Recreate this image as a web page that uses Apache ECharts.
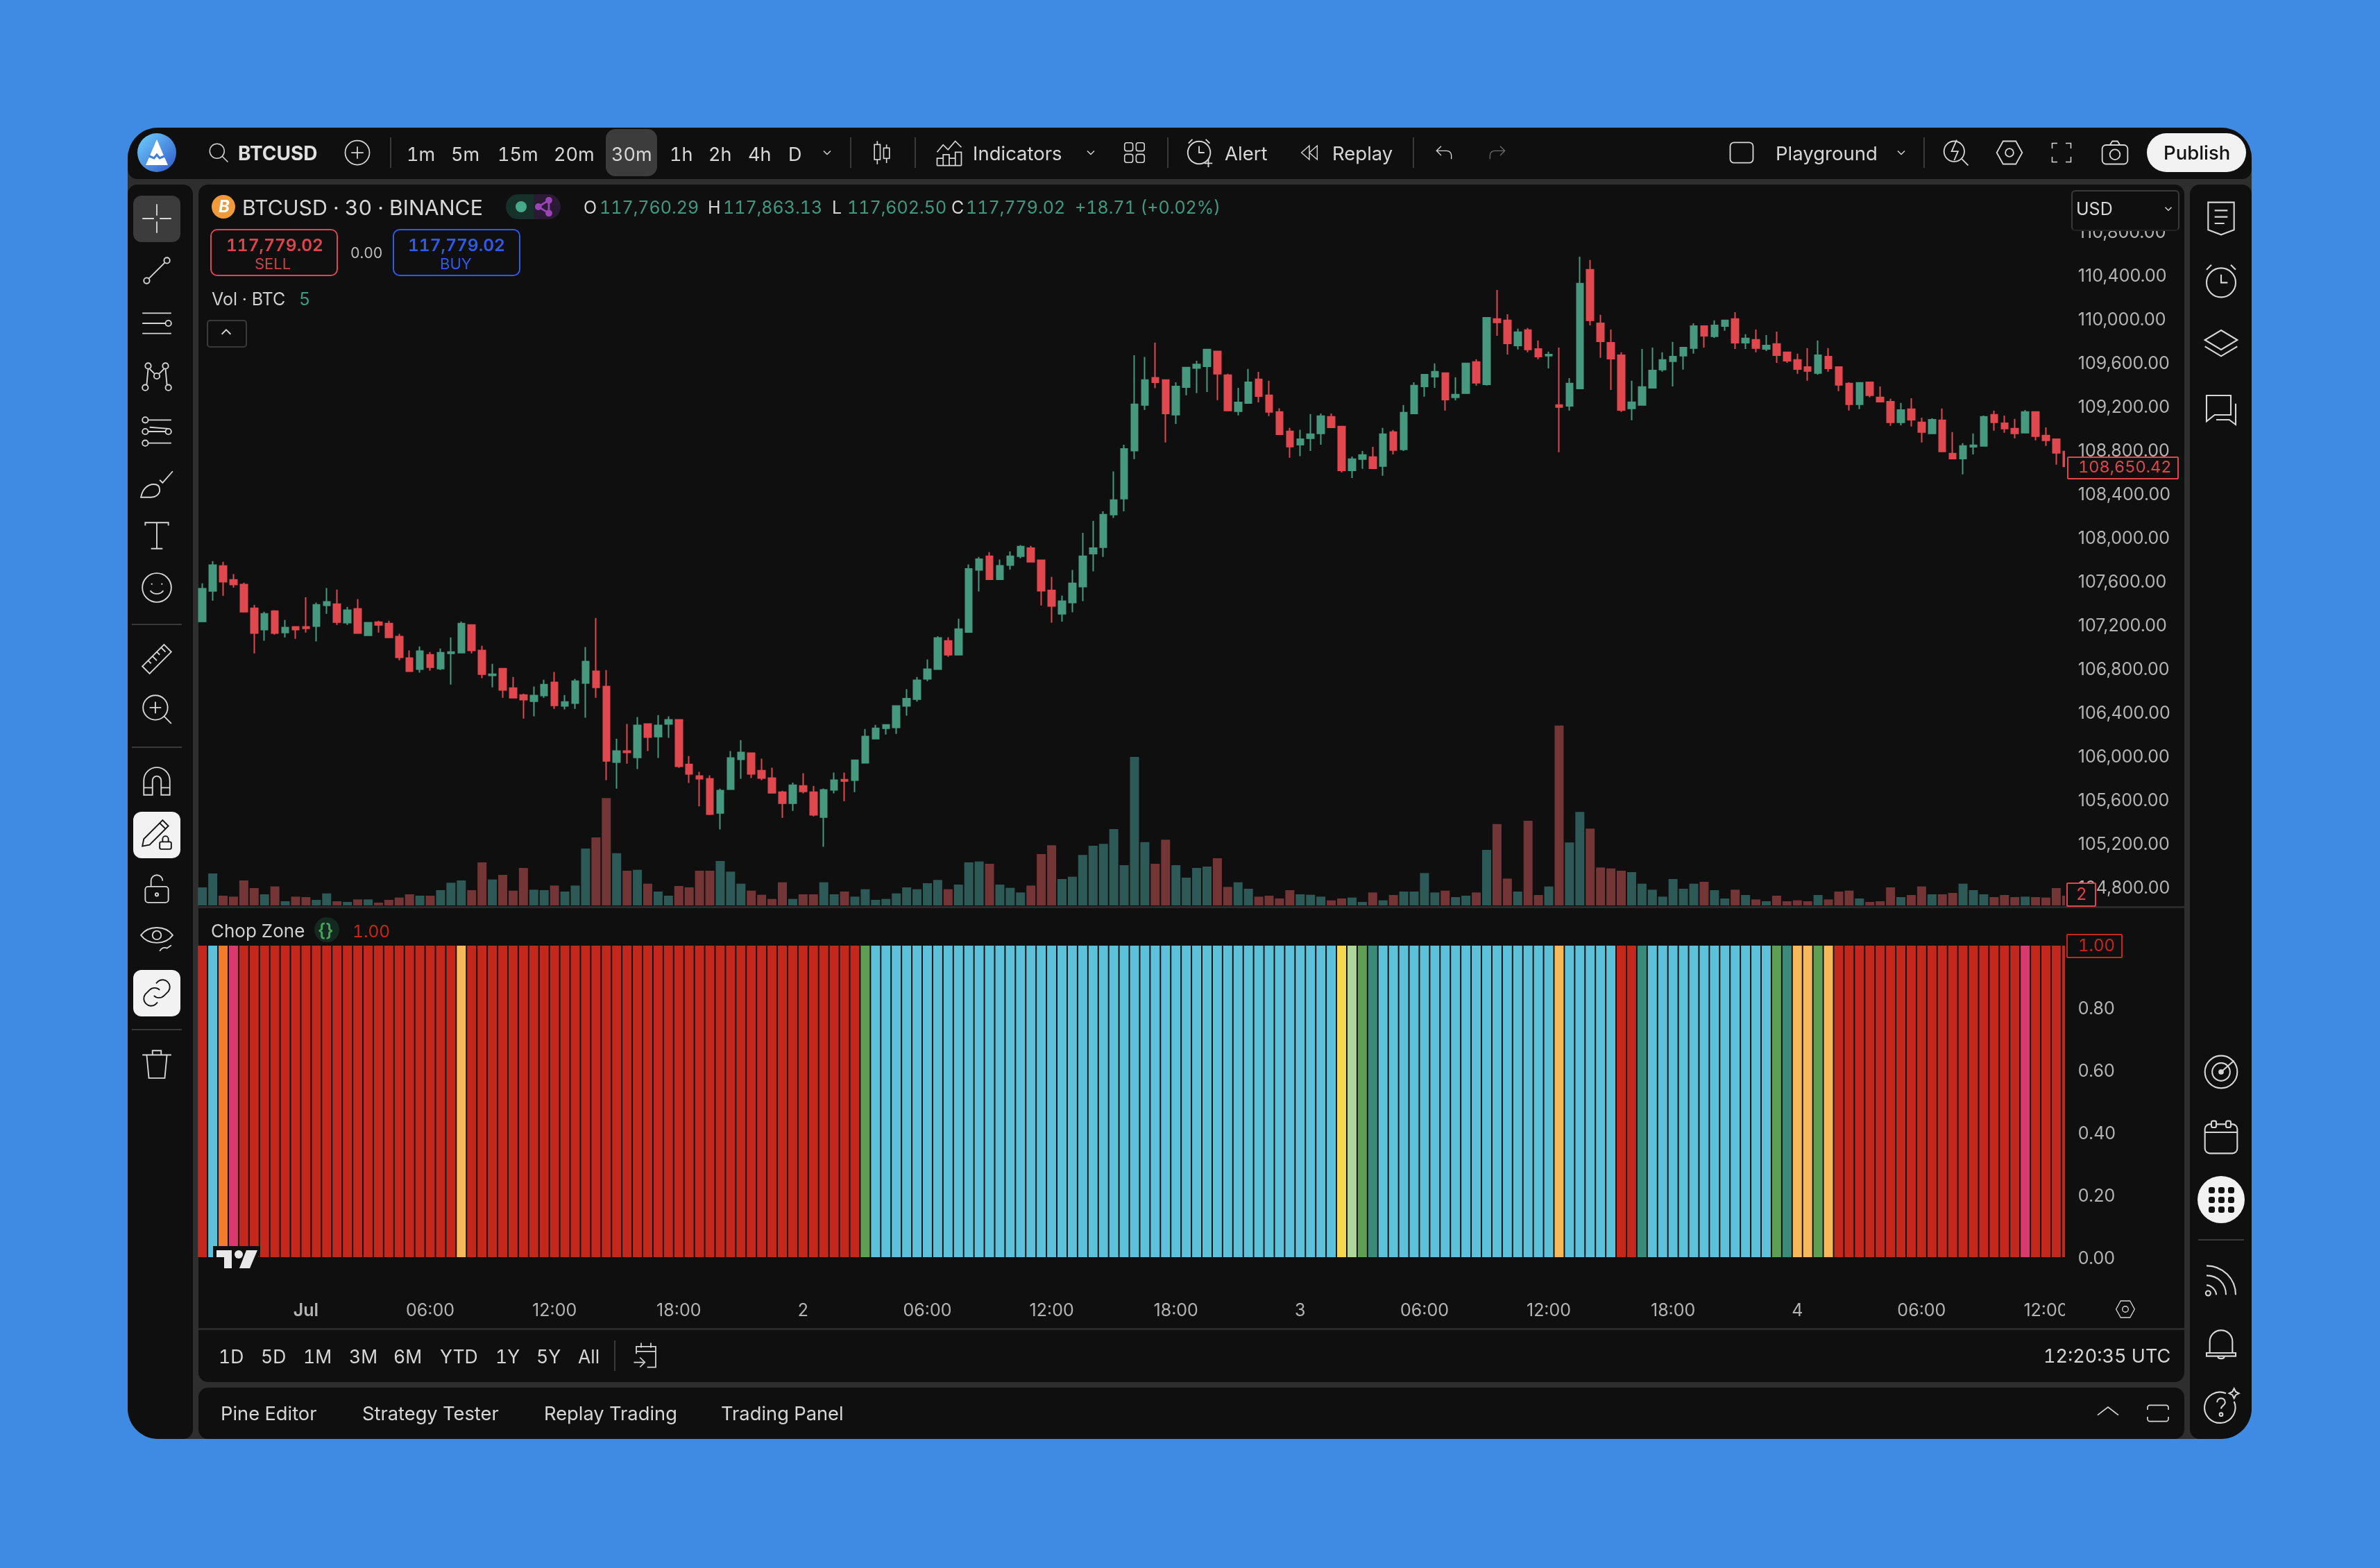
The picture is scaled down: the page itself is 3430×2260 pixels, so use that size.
<!DOCTYPE html>
<html>
<head>
<meta charset="utf-8">
<title>BTCUSD</title>
<script src="https://cdn.jsdelivr.net/npm/echarts@6/dist/echarts.min.js"></script>
<style>
html, body { margin: 0; padding: 0; background: #3f8be3; width: 3430px; height: 2260px; overflow: hidden; }
body { font-family: Inter, "Noto Sans", sans-serif; }
#win { position: absolute; left: 184px; top: 184px; width: 3061px; height: 1890px; background: #2e2e2e; border-radius: 44px; overflow: hidden; }
#chart { position: absolute; left: 0; top: 0; width: 3430px; height: 2260px; z-index: 2; }
#ui { position: absolute; left: 0; top: 0; width: 3430px; height: 2260px; z-index: 3; }
#ui div, #ui svg { position: absolute; }
.t { white-space: nowrap; transform: translateY(-50%); line-height: 1; font-variant-numeric: tabular-nums; }
</style>
</head>
<body>
<div id="win"></div>
<div id="chart"></div>
<div id="ui"></div>
<script>
// values, one entry per 30 minute bar
var opens = [107230,107509,107738,107611,107568,107350,107155,107325,107127,107180,107180,107186,107377,107388,107218,107345,107102,107223,107211,107091,
106894,106792,106925,106798,106937,106944,107198,106964,106735,106798,106619,106556,106499,106551,106671,106456,106481,106665,106773,106633,
105941,106043,105984,106290,106174,106290,106329,105920,105814,105789,105476,105693,105966,106023,105863,105795,105666,105564,105723,105666,
105437,105686,105781,105775,105935,106156,106251,106258,106455,106517,106704,106792,107051,106925,107133,107701,107827,107616,107745,107827,
107902,107790,107514,107300,107402,107548,107851,107909,108208,108355,108794,109213,109461,109441,109124,109376,109550,109567,109703,109485,
109155,109230,109447,109301,109148,108971,108848,108907,108951,109104,109015,108614,108716,108735,108653,108964,108805,109135,109383,109472,
109504,109282,109320,109606,109402,110000,109987,109758,109898,109726,109663,109212,109205,109364,110451,109961,109783,109669,109180,109212,
109370,109536,109612,109663,109733,109936,109841,109936,110000,109783,109809,109726,109771,109695,109625,109561,109504,109656,109561,109409,
109218,109421,109282,109243,109053,109174,109053,108951,109072,108767,108722,108830,108837,109123,109046,108996,108958,109148,108932,108900,
108786];
var closes = [107529,107745,107593,107568,107318,107123,107300,107123,107173,107155,107166,107382,107409,107223,107332,107123,107218,107198,107084,106901,
106773,106957,106810,106944,106950,107211,106964,106746,106746,106601,106531,106513,106551,106651,106460,106492,106683,106862,106626,105952,
106043,106029,106277,106170,106277,106329,105902,105832,105789,105464,105680,105979,106029,105832,105795,105659,105564,105730,105672,105458,
105686,105775,105768,105958,106176,106251,106282,106455,106523,106690,106792,107078,106925,107160,107711,107800,107616,107739,107827,107916,
107776,107511,107371,107415,107579,107827,107902,108208,108341,108811,109219,109441,109420,109134,109383,109556,109584,109720,109499,109162,
109236,109420,109294,109148,108944,108831,108899,108945,109110,109008,108614,108716,108754,108633,108945,108799,109142,109390,109491,109517,
109262,109307,109593,109415,110012,109968,109777,109879,109720,109656,109675,109193,109409,110324,109987,109796,109637,109167,109237,109377,
109529,109625,109656,109739,109936,109847,109942,109987,109783,109822,109733,109758,109669,109618,109542,109523,109669,109548,109396,109218,
109415,109301,109243,109053,109167,109078,108964,109078,108786,108722,108837,108843,109104,109053,108996,108951,109148,108926,108888,108773,
108650];
var highs = [107579,107783,107776,107663,107586,107382,107318,107332,107243,107186,107452,107402,107536,107522,107363,107434,107223,107236,107236,107116,
106964,107000,106950,106982,107084,107230,107198,107007,106842,106798,106721,106569,106633,106696,106767,106556,106703,106996,107261,106785,
106156,106290,106354,106290,106372,106360,106333,105997,105852,105820,105698,106043,106143,106030,105972,105890,105679,105754,105839,105723,
105700,105846,105846,105958,106244,106282,106289,106455,106609,106721,106881,107095,107085,107255,107752,107820,107865,107797,107871,107929,
107922,107797,107637,107466,107701,108042,108151,108239,108603,108848,109669,109652,109784,109447,109420,109556,109618,109720,109710,109499,
109369,109543,109516,109434,109182,109002,108985,109129,109135,109135,109015,108741,108792,108830,109002,108983,109212,109421,109491,109593,
109504,109466,109593,109631,110012,110266,110044,109911,109917,109803,109701,109739,109459,110571,110540,110038,109904,109695,109434,109726,
109739,109695,109790,109739,109961,109936,109987,109993,110063,109860,109904,109853,109885,109695,109682,109733,109803,109733,109561,109421,
109421,109421,109383,109269,109231,109275,109097,109091,109180,108964,108862,108951,109116,109161,109116,109085,109167,109154,109008,108900,
108786];
var lows = [107230,107420,107465,107540,107318,106937,107053,107109,107084,107071,107127,107046,107300,107198,107198,107116,107096,107127,107077,106873,
106773,106760,106778,106785,106651,106937,106937,106710,106626,106531,106531,106340,106360,106531,106429,106424,106429,106347,106531,105775,
105698,105927,105877,106043,105979,106163,105889,105750,105535,105457,105324,105687,105789,105795,105775,105659,105431,105495,105655,105444,
105165,105655,105584,105666,105928,106156,106193,106200,106367,106496,106683,106792,106905,106925,107133,107504,107609,107616,107705,107807,
107776,107375,107218,107228,107313,107415,107688,107820,108178,108239,108716,109168,109366,108869,109039,109301,109322,109332,109257,109162,
109117,109226,109236,109110,108937,108729,108743,108792,108849,109008,108595,108544,108627,108633,108564,108760,108792,109129,109288,109370,
109161,109256,109320,109390,109390,109847,109675,109720,109695,109631,109548,108780,109161,109364,109942,109644,109351,109148,109072,109212,
109370,109517,109383,109536,109682,109739,109828,109892,109726,109726,109695,109707,109599,109599,109498,109434,109491,109517,109339,109161,
109174,109282,109243,109021,109027,109015,108869,108945,108786,108722,108576,108760,108837,108977,108958,108907,108958,108888,108837,108665,
108633];
var volumes = [3.9,6.9,2.1,1.9,5.4,3.75,2.4,4.1,0.9,1.9,1.8,1.2,2.6,0.9,0.75,1.3,1.3,0.6,1.2,1.7,
2.4,2.1,2.1,3.3,4.9,5.4,3.3,9.3,5.6,6.6,3.2,8.1,3.4,3.3,4.3,3.0,4.3,12.3,14.7,23.2,
11.3,7.5,7.7,4.7,3.0,2.1,4.2,3.9,7.5,7.5,9.6,7.3,4.7,3.2,2.3,1.4,5.0,1.4,2.4,2.4,
5.0,2.4,3.0,1.9,3.5,1.2,1.4,2.6,3.9,3.5,4.8,5.5,3.5,4.5,9.3,9.5,9.0,4.5,3.8,2.8,
4.3,11.1,13.0,5.7,6.2,10.9,12.9,13.3,16.5,8.7,32.1,13.7,9.0,14.2,8.7,6.0,8.1,8.4,10.2,4.0,
5.0,3.6,1.9,2.1,1.5,3.3,2.4,2.3,1.9,1.1,1.5,1.7,0.75,2.8,1.1,2.25,3.0,3.0,7.0,2.8,
3.2,1.8,2.1,2.8,12,17.6,5.8,3.0,18.3,2.25,4.1,38.9,13.6,20.2,16.6,8.2,8.0,7.5,7.2,4.7,
3.4,1.9,5.7,3.6,4.7,5.1,3.3,1.5,3.4,2.25,1.3,0.9,2.1,0.9,1.1,0.9,2.25,1.3,3.0,3.2,
1.5,0.75,0.9,3.9,1.8,2.25,4.1,2.4,2.4,2.7,4.7,3.3,2.4,1.8,2.25,1.8,1.9,1.8,1.7,3.75,
2.1];
// one letter per bar: r red, b blue, o orange, p pink, a amber, y yellow, l light green, g green, t teal
var chopZones = 'rbop' + 'rrrrrrrrrrrrrrrrrrrrr' + 'a' + 'rrrrrrrrrrrrrrrrrrrrrrrrrrrrrrrrrrrrrr' + 'g'
  + 'bbbbbbbbbbbbbbbbbbbbbbbbbbbbbbbbbbbbbbbbbbbbb' + 'ylgt' + 'bbbbbbbbbbbbbbbbb' + 'a' + 'bbbbb' + 'rr' + 't'
  + 'bbbbbbbbbbbb' + 'gtaaga' + 'rrrrrrrrrrrrrrrrrr' + 'p' + 'rrrr';
var chopValue = 1;
var timeLabels = ['Jul','06:00','12:00','18:00','2','06:00','12:00','18:00','3','06:00','12:00','18:00','4','06:00','12:00'];
var firstLabelBar = 10;
var barsPerLabel = 12;

var UP = '#46997f', DOWN = '#e0484f';
var VOL_UP = '#2d5a57', VOL_DOWN = '#733535';
var chopColors = { r: '#c4281c', b: '#5cc1d9', o: '#f37b2b', p: '#d83a6e', a: '#f5b95a', y: '#f8d74f', l: '#b0d59c', g: '#5e9f55', t: '#3a8a7a' };
var FONT = 'Inter';

var categories = opens.map(function (v, i) {
    var k = i - firstLabelBar;
    return (k >= 0 && k % barsPerLabel === 0) ? timeLabels[k / barsPerLabel] : '';
});
var candleData = opens.map(function (v, i) { return [opens[i], closes[i], lows[i], highs[i]]; });
var volumeData = volumes.map(function (v, i) {
    return { value: v, itemStyle: { color: closes[i] >= opens[i] ? VOL_UP : VOL_DOWN } };
});
var chopData = opens.map(function (v, i) {
    return { value: chopValue, itemStyle: { color: chopColors[chopZones.charAt(i)] } };
});

// price scale labels sit a little under their tick
var scaleRich = { a: { fontFamily: FONT, fontSize: 25, color: '#b4b4b4', padding: [4, 0, 0, 0] } };

var gridX = { left: 284.2, width: 2701.6 };
var myChart = echarts.init(document.getElementById('chart'));
var option = {
    animation: false,
    backgroundColor: 'transparent',
    grid: [
        { left: gridX.left, width: gridX.width, top: 271, height: 1007 },
        { left: gridX.left, width: gridX.width, top: 1005, height: 300 },
        { left: gridX.left, width: gridX.width, top: 1363, height: 449 }
    ],
    xAxis: [
        { type: 'category', gridIndex: 0, data: categories, show: false },
        { type: 'category', gridIndex: 1, data: categories, show: false },
        {
            type: 'category', gridIndex: 2, data: categories, z: 2,
            axisLine: { show: false }, axisTick: { show: false },
            axisLabel: {
                interval: function (i, name) { return name !== ''; },
                margin: 65, fontFamily: FONT, fontSize: 25, color: '#b4b4b4',
                formatter: function (v) { return v === 'Jul' ? '{b|Jul}' : v; },
                rich: { b: { fontFamily: FONT, fontSize: 25, fontWeight: 600, color: '#b4b4b4' } }
            }
        }
    ],
    yAxis: [
        {
            type: 'value', gridIndex: 0, position: 'right', min: 104800, max: 111200, interval: 400, z: 6,
            axisLine: { show: false }, axisTick: { show: false }, splitLine: { show: false },
            axisLabel: {
                margin: 9, showMaxLabel: false, rich: scaleRich,
                formatter: function (v) { return '{a|' + v.toLocaleString('en-US', { minimumFractionDigits: 2 }) + '}'; }
            }
        },
        { type: 'value', gridIndex: 1, min: 0, max: 45, show: false },
        {
            type: 'value', gridIndex: 2, position: 'right', min: 0, max: 1, interval: 0.2, z: 6,
            axisLine: { show: false }, axisTick: { show: false }, splitLine: { show: false },
            axisLabel: {
                margin: 9, showMaxLabel: false, rich: scaleRich,
                formatter: function (v) { return '{a|' + v.toFixed(2) + '}'; }
            }
        }
    ],
    // the last bar is cut by the pane edge
    graphic: [{
        type: 'rect', z: 5, silent: true,
        shape: { x: 2976, y: 266, width: 18, height: 1644 },
        style: { fill: '#0f0f0f' }
    }],
    series: [
        {
            name: 'Vol', type: 'bar', xAxisIndex: 1, yAxisIndex: 1, barWidth: 13, data: volumeData
        },
        {
            name: 'BTCUSD', type: 'candlestick', xAxisIndex: 0, yAxisIndex: 0, barWidth: 10,
            itemStyle: { color: UP, color0: DOWN, borderColor: UP, borderColor0: DOWN, borderWidth: 2 },
            data: candleData
        },
        {
            name: 'Chop Zone', type: 'bar', xAxisIndex: 2, yAxisIndex: 2, barWidth: 13, data: chopData
        }
    ]
};
myChart.setOption(option);

// ---- terminal frame around the chart ----
var ui = document.getElementById('ui');
var win = document.getElementById('win');
var PANE = '#0f0f0f', TXT = '#d6d6d6';

function box(x, y, w, h, css, parent) {
    var d = document.createElement('div');
    d.style.cssText = 'left:' + x + 'px;top:' + y + 'px;width:' + w + 'px;height:' + h + 'px;position:absolute;' + (css || '');
    (parent || ui).appendChild(d);
    return d;
}
function pane(x, y, w, h) { box(x - 184, y - 184, w, h, 'background:' + PANE + ';border-radius:14px;', win); }
function text(s, x, y, size, color, weight, css) {
    var d = document.createElement('div');
    d.className = 't';
    d.textContent = s;
    d.style.cssText = 'left:' + x + 'px;top:' + y + 'px;font-size:' + size + 'px;color:' + (color || TXT) + ';font-weight:' + (weight || 400) + ';' + (css || '');
    ui.appendChild(d);
    return d;
}
function icon(cx, cy, size, inner, color, sw) {
    var s = document.createElementNS('http://www.w3.org/2000/svg', 'svg');
    s.setAttribute('viewBox', '0 0 24 24');
    s.setAttribute('width', size);
    s.setAttribute('height', size);
    s.style.left = (cx - size / 2) + 'px';
    s.style.top = (cy - size / 2) + 'px';
    s.setAttribute('fill', 'none');
    s.setAttribute('stroke', color || TXT);
    s.setAttribute('stroke-width', sw || 1);
    s.innerHTML = inner;
    ui.appendChild(s);
}
function vline(x, y0, y1) { box(x, y0, 2, y1 - y0, 'background:#3a3a3a;'); }
function hline(x0, x1, y) { box(x0, y, x1 - x0, 2, 'background:#3a3a3a;'); }

pane(184, 184, 3061, 74);
pane(184, 266, 94, 1808);
pane(286, 266, 2862, 1726);
pane(286, 2000, 2862, 74);
pane(3156, 266, 89, 1808);
box(286, 1306, 2862, 3, 'background:#2a2a2a;');
box(286, 1914, 2862, 3, 'background:#2a2a2a;');

var ICONS = {
    search: '<circle cx="10.5" cy="10.5" r="7"/><path d="M15.5 15.5L21 21"/>',
    plus: '<circle cx="12" cy="12" r="10"/><path d="M12 7v10M7 12h10"/>',
    chevron: '<path d="M6 9l6 6 6-6"/>',
    candles: '<path d="M8 2v20M16 5v16"/><rect x="5.5" y="5" width="5" height="13" fill="#0f0f0f"/><rect x="13.5" y="8" width="5" height="9" fill="#0f0f0f"/>',
    indicators: '<path d="M2 11l5-6 4 4 6-7 5 5"/><path d="M2 22v-6h5v6M7 22V13h5v9M12 22V16h5v6M17 22V11h5v11M2 22h20"/>',
    grid: '<rect x="3" y="3" width="7.5" height="7.5" rx="2"/><rect x="13.5" y="3" width="7.5" height="7.5" rx="2"/><rect x="3" y="13.5" width="7.5" height="7.5" rx="2"/><rect x="13.5" y="13.5" width="7.5" height="7.5" rx="2"/>',
    alert: '<circle cx="11" cy="12" r="8.5"/><path d="M11 7v5h4M3 5l3-3M19 5l-3-3M18 17v6M15 20h6"/>',
    replay: '<path d="M12 5l-8 7 8 7zM20 5l-8 7 8 7z"/>',
    undo: '<path d="M9 5L4 10l5 5M4 10h11a5 5 0 015 5v4"/>',
    redo: '<path d="M15 5l5 5-5 5M20 10H9a5 5 0 00-5 5v4"/>',
    square: '<rect x="3" y="4" width="18" height="16" rx="3"/>',
    bolt: '<circle cx="10" cy="11" r="8"/><path d="M16 17l5 5M12 2l-4 9h5l-3 7"/>',
    hex: '<path d="M7 3h10l5 9-5 9H7l-5-9z"/><circle cx="12" cy="12" r="3.2"/>',
    full: '<path d="M3 8V3h5M16 3h5v5M21 16v5h-5M8 21H3v-5"/>',
    camera: '<rect x="2" y="6" width="20" height="15" rx="3"/><circle cx="12" cy="13.5" r="4"/><path d="M8 6l2-3h4l2 3"/>',
    cross: '<path d="M12 2v8M12 14v8M2 12h8M14 12h8"/>',
    line: '<circle cx="5" cy="19" r="2"/><circle cx="19" cy="5" r="2"/><path d="M6.4 17.6L17.6 6.4"/>',
    lines: '<path d="M2 5h20M2 12h16M2 19h20"/><circle cx="20" cy="12" r="2"/>',
    network: '<circle cx="6" cy="5" r="2"/><circle cx="18" cy="5" r="2"/><circle cx="12" cy="12" r="2"/><circle cx="4" cy="20" r="2"/><circle cx="20" cy="20" r="2"/><path d="M7 7l3.5 3.5M17 7l-3.5 3.5M5 18l1-11M19 18l-1-11"/>',
    fib: '<path d="M6 4h16M6 12h12M6 20h16M7 9l13 1"/><circle cx="4" cy="4" r="2"/><circle cx="4" cy="12" r="2"/><circle cx="20" cy="12" r="2"/><circle cx="4" cy="20" r="2"/>',
    brush: '<path d="M1 21c1-5 4-9 9-9 3 0 4 2 4 4 0 3-3 5-6 5zM14 9l2 2 7-8"/>',
    letter: '<path d="M4 5V3h16v2M12 3v18M8 21h8"/>',
    smile: '<circle cx="12" cy="12" r="10"/><path d="M7.5 14c2 3 7 3 9 0M8.5 9v1M15.5 9v1"/>',
    ruler: '<path d="M2 17L17 2l5 5L7 22zM6 13l2 2M9 10l3 3M12 7l2 2M15 4l3 3"/>',
    zoomIn: '<circle cx="11" cy="11" r="8.5"/><path d="M17 17l5 5M11 7v8M7 11h8"/>',
    magnet: '<path d="M3 21V11a9 9 0 0118 0v10h-6V11a3 3 0 00-6 0v10zM3 16h6M15 16h6"/>',
    pencilLock: '<path d="M2 20l1-5L14 4l4 4L7 19zM14 4l2-2 4 4-2 2"/><rect x="14" y="17" width="8" height="5" rx="1"/><path d="M16 17v-2a2 2 0 014 0v2"/>',
    lock: '<rect x="4" y="11" width="16" height="11" rx="2"/><path d="M8 11V7a4 4 0 018 0"/><circle cx="12" cy="16.5" r="1"/>',
    eye: '<path d="M1 11c5-7 17-7 22 0-5 7-17 7-22 0z"/><circle cx="12" cy="11" r="3"/><path d="M14 22c1-2 3-3 5-2l3-2"/>',
    link: '<path d="M10 14a5 5 0 007 0l3-3a5 5 0 00-7-7l-1.500 1.500M14 10a5 5 0 00-7 0l-3 3a5 5 0 007 7l1.500-1.500"/>',
    trash: '<path d="M2 6h20M9 6V3h6v3M5 6l1.500 16h11L19 6"/>',
    notes: '<path d="M4 2h16v17l-8 3-8-3zM8 7h8M8 11h8M8 15h6"/>',
    alarm: '<circle cx="12" cy="13" r="9"/><path d="M12 8v5h4M3 5l3-3M21 5l-3-3"/>',
    layers: '<path d="M12 3l10 6-10 6L2 9zM2 13l10 6 10-6"/>',
    chat: '<path d="M3 3h15v12H8l-5 4zM21 8v13l-4-3H9"/>',
    target: '<circle cx="12" cy="12" r="10"/><circle cx="12" cy="12" r="5.500"/><circle cx="12" cy="12" r="1.200" fill="#d6d6d6"/><path d="M12 12l8-7"/>',
    calendar: '<rect x="2" y="4" width="20" height="18" rx="3"/><path d="M2 9h20"/><rect x="6" y="2" width="3" height="4" rx="1" fill="#0f0f0f"/><rect x="15" y="2" width="3" height="4" rx="1" fill="#0f0f0f"/>',
    rss: '<path d="M3 4c10 0 18 8 18 18M3 10c7 0 12 5 12 12M3 16c3 0 6 3 6 6"/><circle cx="4" cy="21" r="1.500"/>',
    bell: '<path d="M5 18V11a7 7 0 0114 0v7M3 18h18v2H3zM10 20c0 2 4 2 4 0"/>',
    help: '<path d="M20 9a9.500 9.500 0 11-5-5"/><path d="M9.500 9.500a2.500 2.500 0 115 0c0 2-2.500 2-2.500 4"/><circle cx="12" cy="17" r="1"/><path d="M20 1l1 2 2 1-2 1-1 2-1-2-2-1 2-1z"/>',
    calendarGo: '<path d="M4 11V5h16v17h-7M4 9h16M8 2v4M16 2v4M2 18h8M7 14l4 4-4 4"/>',
    up: '<path d="M3 16l9-7 9 7"/>',
    frame: '<path d="M5 5h14a2 2 0 012 2v2M21 15v2a2 2 0 01-2 2H5a2 2 0 01-2-2v-2M3 9V7a2 2 0 012-2"/>'
};

// ---- top bar ----
var logo = document.createElementNS('http://www.w3.org/2000/svg', 'svg');
logo.setAttribute('viewBox', '0 0 56 56');
logo.setAttribute('width', 56);
logo.setAttribute('height', 56);
logo.style.left = '198px';
logo.style.top = '192px';
logo.innerHTML = '<defs><linearGradient id="lg" x1="0" y1="0" x2="1" y2="1"><stop offset="0" stop-color="#6fd0ff"/><stop offset="1" stop-color="#2f58c8"/></linearGradient></defs><circle cx="28" cy="28" r="28" fill="url(#lg)"/><path d="M28 9L44 46H12z" fill="#fff"/><path d="M17 33l7 3 4-5 4 5 7-3" fill="none" stroke="#3f7fd8" stroke-width="3"/>';
ui.appendChild(logo);
icon(315, 220, 36, ICONS.search);
text('BTCUSD', 343, 221, 28, '#e0e0e0', 700);
icon(515, 220, 42, ICONS.plus);
vline(562, 198, 242);
box(873, 186, 74, 68, 'background:#3c3c3c;border-radius:14px;');
[['1m', 586], ['5m', 650], ['15m', 717], ['20m', 798], ['30m', 881], ['1h', 965], ['2h', 1021], ['4h', 1078], ['D', 1136]].forEach(function (t) {
    text(t[0], t[1], 221.5, 27);
});
icon(1192, 220, 20, ICONS.chevron, TXT, 1.8);
vline(1225, 198, 242);
icon(1271, 220, 40, ICONS.candles);
vline(1318, 198, 242);
icon(1368, 221, 42, ICONS.indicators);
text('Indicators', 1402, 221.5, 27.5);
icon(1572, 220, 20, ICONS.chevron, TXT, 1.8);
icon(1635, 220, 38, ICONS.grid);
vline(1682, 198, 242);
icon(1730, 220, 46, ICONS.alert);
text('Alert', 1765, 221.5, 27.5);
icon(1887, 220, 34, ICONS.replay);
text('Replay', 1920, 221.5, 27.5);
vline(2036, 198, 242);
icon(2081, 220, 32, ICONS.undo);
icon(2158, 220, 32, ICONS.redo, '#6a6a6a');
icon(2510, 220, 44, ICONS.square);
text('Playground', 2559, 221.5, 27.5);
icon(2740, 220, 20, ICONS.chevron, TXT, 1.8);
vline(2772, 198, 242);
icon(2820, 220, 44, ICONS.bolt);
icon(2896, 220, 44, ICONS.hex);
icon(2971, 220, 36, ICONS.full);
icon(3048, 220, 44, ICONS.camera);
box(3094, 192, 143, 56, 'background:#f2f2f2;border-radius:28px;');
text('Publish', 3118, 221, 27.5, '#111', 500);

// ---- left toolbar ----
box(192, 282, 68, 67, 'background:#3c3c3c;border-radius:12px;');
box(192, 1170, 68, 67, 'background:#f2f2f2;border-radius:12px;');
box(192, 1398, 68, 67, 'background:#f2f2f2;border-radius:12px;');
[['cross', 315], ['line', 390], ['lines', 466], ['network', 542], ['fib', 622], ['brush', 698], ['letter', 772], ['smile', 847],
 ['ruler', 950], ['zoomIn', 1022], ['magnet', 1127], ['pencilLock', 1203, '#111'], ['lock', 1280], ['eye', 1350], ['link', 1431, '#111'], ['trash', 1533]].forEach(function (t) {
    icon(226, t[1], 50, ICONS[t[0]], t[2], 0.9);
});
hline(190, 262, 899);
hline(190, 262, 1076);
hline(190, 262, 1483);

// ---- right toolbar ----
[['notes', 315], ['alarm', 405], ['layers', 497], ['chat', 591], ['target', 1545], ['calendar', 1639], ['rss', 1843], ['bell', 1936], ['help', 2027]].forEach(function (t) {
    icon(3201, t[1], 56, ICONS[t[0]], TXT, 0.9);
});
box(3167, 1695, 68, 68, 'background:#f2f2f2;border-radius:34px;');
for (var r = 0; r < 3; r++) {
    for (var c = 0; c < 3; c++) {
        box(3183 + c * 14, 1711 + r * 14, 9, 9, 'background:#111;border-radius:3px;');
    }
}
hline(3168, 3234, 1786);

// ---- legend ----
box(305, 281, 34, 34, 'background:#f09a3a;border-radius:17px;');
text('B', 315, 298, 24, '#fff', 700, 'font-style:italic;');
text('BTCUSD · 30 · BINANCE', 349, 299, 30.3, '#d8d8d8');
box(729, 280, 40, 36, 'background:#16302a;border-radius:18px 0 0 18px;');
box(769, 280, 39, 36, 'background:#2a1a33;border-radius:0 18px 18px 0;');
box(743, 290, 16, 16, 'background:#46a98c;border-radius:8px;');
icon(784, 298, 28, '<circle cx="18" cy="4" r="3" fill="#9a45b5"/><circle cx="5" cy="12" r="3" fill="#9a45b5"/><circle cx="18" cy="20" r="3" fill="#9a45b5"/><path d="M18 4L5 12l13 8z"/>', '#9a45b5', 2.4);
[['O', 841], ['H', 1020], ['L', 1199], ['C', 1371]].forEach(function (t) { text(t[0], t[1], 299, 25); });
[['117,760.29', 864], ['117,863.13', 1042], ['117,602.50', 1221], ['117,779.02', 1392], ['+18.71 (+0.02%)', 1549]].forEach(function (t) {
    text(t[0], t[1], 299, 25, '#3f9a80');
});
box(303, 330, 180, 64, 'border:2.5px solid #e0444c;border-radius:10px;');
text('117,779.02', 326, 353, 24.5, '#e0444c', 600);
text('SELL', 367, 380, 22, '#c8444a');
text('0.00', 505, 364, 21, '#bdbdbd');
box(566, 330, 180, 64, 'border:2.5px solid #2f5bea;border-radius:10px;');
text('117,779.02', 588, 353, 24.5, '#2f5bea', 600);
text('BUY', 634, 380, 22, '#2f5bea');
text('Vol · BTC', 305, 431, 25, '#d0d0d0');
text('5', 431, 431, 25, '#3f9a80');
box(298, 461, 54, 36, 'border:2px solid #3a3a3a;border-radius:5px;');
icon(326, 479, 22, '<path d="M5 15l7-7 7 7"/>', TXT, 2);

// ---- price scale flags ----
box(2985, 274, 152, 55, 'background:#0f0f0f;border:2px solid #3a3a3a;border-bottom-color:#222;border-radius:6px;');
text('USD', 2992, 301, 25, '#d6d6d6');
icon(3125, 301, 18, ICONS.chevron, TXT, 2);
box(2979, 658, 157, 29, 'background:#0f0f0f;border:2px solid #e0444c;border-radius:2px;');
text('108,650.42', 2995, 673, 23.5, '#e0444c');
box(2978, 1272, 39, 31, 'background:#0f0f0f;border:2px solid #e0444c;border-radius:2px;');
text('2', 2992, 1289, 24, '#e0444c');
box(2978, 1346, 77, 31, 'background:#0f0f0f;border:2px solid #c4281c;border-radius:2px;');
text('1.00', 2995, 1363, 24, '#c4281c');

// ---- chop zone header and watermark ----
text('Chop Zone', 304, 1342, 26, '#d0d0d0');
box(453, 1322, 36, 36, 'background:#14291f;border-radius:18px;');
text('{}', 459, 1341, 26, '#4aa35c', 600);
text('1.00', 508, 1342, 24.5, '#c4281c');
var wm = document.createElementNS('http://www.w3.org/2000/svg', 'svg');
wm.setAttribute('viewBox', '0 0 68 34');
wm.setAttribute('width', 68);
wm.setAttribute('height', 34);
wm.style.left = '307px';
wm.style.top = '1796px';
wm.innerHTML = '<path d="M0 0H68V8L58 34H0z" fill="#0f0f0f"/><path d="M5 6H27V32H16V16H5z" fill="#e8e8e8"/><circle cx="37" cy="12" r="6" fill="#e8e8e8"/><path d="M48 6H64L53 32H38z" fill="#e8e8e8"/>';
ui.appendChild(wm);

// ---- bottom rows ----
icon(3063, 1887, 32, ICONS.hex);
[['1D', 315], ['5D', 376], ['1M', 437], ['3M', 503], ['6M', 567], ['YTD', 634], ['1Y', 714], ['5Y', 773], ['All', 833]].forEach(function (t) {
    text(t[0], t[1], 1955, 26.5);
});
vline(885, 1932, 1976);
icon(931, 1953, 42, ICONS.calendarGo);
text('12:20:35 UTC', 2945, 1954, 27);
[['Pine Editor', 318], ['Strategy Tester', 522], ['Replay Trading', 784], ['Trading Panel', 1039]].forEach(function (t) {
    text(t[0], t[1], 2038, 27.3);
});
icon(3038, 2033, 40, ICONS.up);
icon(3110, 2037, 40, ICONS.frame);
</script>
</body>
</html>
